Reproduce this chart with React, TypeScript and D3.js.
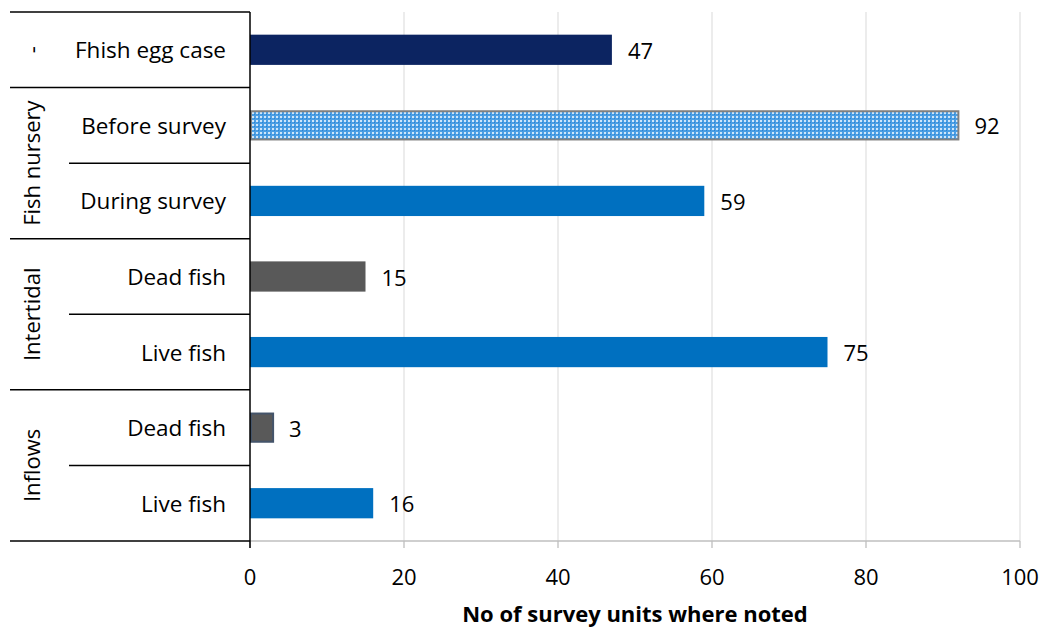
import React from "react";
import * as d3 from "d3";

const groups = ["-", "Fish nursery", "Intertidal", "Inflows"];
const categories = ["Fhish egg case", "Before survey", "During survey", "Dead fish", "Live fish", "Dead fish", "Live fish"];
const categoryGroup = [0, 1, 1, 2, 2, 3, 3];
const values = [47, 92, 59, 15, 75, 3, 16];
const barFills = ["#0C2461", "url(#dots)", "#0070C0", "#595959", "#0070C0", "#595959", "#0070C0"];
const barStrokes = ["none", "#808080", "none", "none", "none", "#44546A", "none"];
const xTicks = [0, 20, 40, 60, 80, 100];
const xTitle = "No of survey units where noted";

const W = 1046, H = 629;
const left = 250, right = 1020, top = 12, bottom = 541;
const FONT = "'Open Sans', sans-serif";

export default function App() {
  const x = d3.scaleLinear().domain([0, 100]).range([left, right]);
  const rows = d3.range(categories.length);
  const y = d3.scaleBand<number>().domain(rows).range([top, bottom]).paddingInner(0.6).paddingOuter(0.3);
  const rowH = (bottom - top) / categories.length;
  const rowY = (i: number) => top + i * rowH;

  const groupSpans = groups.map((g, gi) => {
    const idx = rows.filter((r) => categoryGroup[r] === gi);
    return { g, start: d3.min(idx)!, end: d3.max(idx)! };
  });

  return (
    <svg width={W} height={H} style={{ position: "absolute", left: 0, top: 0, background: "#fff" }} fontFamily={FONT}>
      <defs>
        <pattern id="dots" width="4" height="4" patternUnits="userSpaceOnUse">
          <rect width="4" height="4" fill="#4B9EE3" />
          <rect x="0" y="0" width="2" height="2" fill="#CFE6FA" />
          <rect x="2" y="2" width="1" height="1" fill="#2C83D4" />
        </pattern>
      </defs>
      {xTicks.slice(1).map((t) => (
        <line key={"g" + t} x1={x(t)} x2={x(t)} y1={top} y2={bottom} stroke="#D9D9D9" strokeWidth={1} />
      ))}
      <line x1={left} x2={right} y1={bottom} y2={bottom} stroke="#BFBFBF" strokeWidth={1.3} />
      {xTicks.map((t) => (
        <g key={"t" + t}>
          <line x1={x(t)} x2={x(t)} y1={bottom} y2={bottom + 7} stroke="#BFBFBF" strokeWidth={1.3} />
          <text x={x(t)} y={585} textAnchor="middle" fontSize={22} fill="#000">{t}</text>
        </g>
      ))}
      <text x={(left + right) / 2} y={622} textAnchor="middle" fontSize={22} fontWeight="bold" fill="#000">{xTitle}</text>
      {values.map((v, i) => {
        const sw = barStrokes[i] === "none" ? 0 : 2;
        return (
          <g key={"b" + i}>
            <rect
              x={x(0) + sw / 2}
              y={y(i)! + sw / 2}
              width={x(v) - x(0) - sw / 2}
              height={y.bandwidth() - sw}
              fill={barFills[i]}
              stroke={barStrokes[i]}
              strokeWidth={sw}
            />
            <text x={x(v) + 16} y={y(i)! + y.bandwidth() / 2} dominantBaseline="central" fontSize={22} fill="#000">{v}</text>
          </g>
        );
      })}
      <line x1={left} x2={left} y1={top} y2={bottom + 7} stroke="#000" strokeWidth={1.5} />
      {rows.map((r) => (
        <text key={"c" + r} x={226} y={rowY(r) + rowH / 2} textAnchor="end" dominantBaseline="central" fontSize={22.5} fill="#000">
          {categories[r]}
        </text>
      ))}
      {rows.map((r) => {
        const isGroupStart = r === 0 || categoryGroup[r] !== categoryGroup[r - 1];
        return (
          <line key={"s" + r} x1={isGroupStart ? 10 : 69} x2={left} y1={rowY(r)} y2={rowY(r)} stroke="#000" strokeWidth={1.5} />
        );
      })}
      <line x1={10} x2={left} y1={bottom} y2={bottom} stroke="#000" strokeWidth={1.5} />
      {groupSpans.map(({ g, start, end }) => {
        const cy = (rowY(start) + rowY(end + 1)) / 2;
        return (
          <text key={"gl" + g} transform={`translate(31,${cy}) rotate(-90)`} textAnchor="middle" dominantBaseline="central" fontSize={22} fill="#000">
            {g}
          </text>
        );
      })}
    </svg>
  );
}
